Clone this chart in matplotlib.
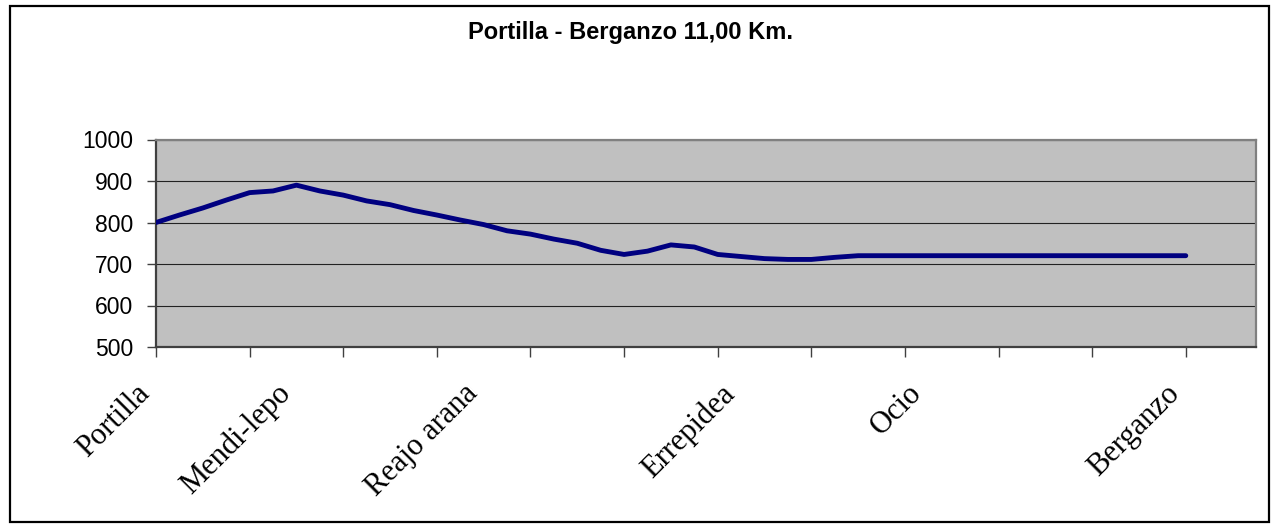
import numpy as np
import matplotlib
matplotlib.use('Agg')
import matplotlib.pyplot as plt
from matplotlib.patches import Rectangle
from matplotlib.transforms import ScaledTranslation

# Elevation profile (m), one value per sample point along the route
elevation = [800, 818, 835, 854, 872, 876, 890, 876, 866, 852, 843, 829,
             818, 806, 795, 780, 772, 760, 750, 733, 723, 731, 746, 741,
             723, 718, 713, 711, 711, 716, 720, 720, 720, 720, 720, 720,
             720, 720, 720, 720, 720, 720, 720, 720, 720]
n_categories = 48  # category axis has 3 empty slots after the last point

# Named places and the sample point where each one sits
waypoints = ['Portilla', 'Mendi-lepo', 'Reajo arana', 'Errepidea', 'Ocio', 'Berganzo']
waypoint_point = [0, 6, 14, 25, 33, 44]

title = 'Portilla - Berganzo 11,00 Km.'

W, H = 1277, 532
fig = plt.figure(figsize=(W / 100, H / 100), dpi=100)
fig.patch.set_facecolor('white')

# outer chart border
fig.patches.append(Rectangle((10 / W, 1 - 522 / H), 1259 / W, 516 / H,
                             transform=fig.transFigure, fill=False,
                             edgecolor='black', linewidth=1.6))

ax = fig.add_axes([156 / W, 1 - 347 / H, 1100 / W, 207.5 / H])
ax.set_facecolor('#C0C0C0')

x = np.arange(len(elevation))
ax.plot(x, elevation, color='#000080', linewidth=3.5,
        solid_joinstyle='round', solid_capstyle='round', zorder=3)

ax.set_xlim(0, n_categories - 1)
ax.set_ylim(500, 1000)
ax.set_yticks(np.arange(500, 1001, 100))
ax.yaxis.grid(True, color='#222222', linewidth=0.8)
ax.set_axisbelow(True)

for lab in ax.get_yticklabels():
    lab.set_fontfamily('Liberation Sans')
    lab.set_fontsize(16.5)
ax.tick_params(axis='y', direction='out', length=6.5, width=1, color='#404040', pad=10)

# tick marks every 4 categories, place names as minor tick labels
ax.xaxis.remove_overlapping_locs = False
ax.set_xticks(np.arange(0, n_categories, 4))
ax.set_xticklabels([])
ax.tick_params(axis='x', which='major', direction='out', length=7, width=1, color='#404040')
ax.set_xticks(waypoint_point, minor=True)
ax.set_xticklabels(waypoints, minor=True, rotation=45, ha='right', va='top',
                   rotation_mode='anchor', fontfamily='Liberation Serif', fontsize=22)
ax.tick_params(axis='x', which='minor', length=0, pad=23)
for lab in ax.get_xticklabels(minor=True):
    lab.set_transform(lab.get_transform() + ScaledTranslation(-21 / 100, 0, fig.dpi_scale_trans))

for side in ['left', 'bottom']:
    ax.spines[side].set_color('#404040')
    ax.spines[side].set_linewidth(1.6)
for side in ['top', 'right']:
    ax.spines[side].set_color('#808080')
    ax.spines[side].set_linewidth(1.6)

fig.text(631 / W, 1 - 32 / H, title, ha='center', va='center',
         fontfamily='Liberation Sans', fontweight='bold', fontsize=17)

fig.savefig('out.png', dpi=100)
